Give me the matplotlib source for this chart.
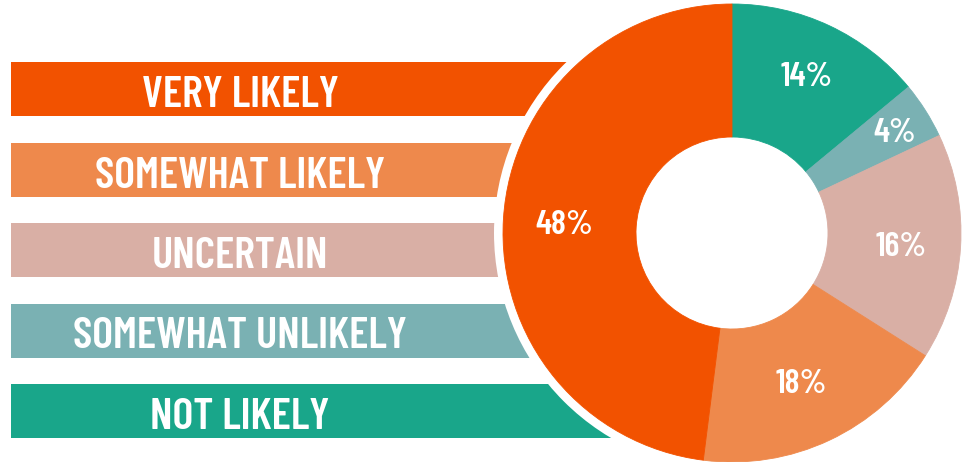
import matplotlib
matplotlib.use("Agg")
import matplotlib.pyplot as plt
import numpy as np
from matplotlib.patches import Circle

# data
categories = ["VERY LIKELY", "SOMEWHAT LIKELY", "UNCERTAIN", "SOMEWHAT UNLIKELY", "NOT LIKELY"]
shares = [48, 18, 16, 4, 14]
colors = ["#F25200", "#EE894C", "#D9AFA5", "#7AB1B3", "#19A68A"]

# pie goes clockwise from 12 o'clock starting with NOT LIKELY
pie_order = [4, 3, 2, 1, 0]
label_dist = {4: 0.765, 3: 0.84, 2: 0.74, 1: 0.715, 0: 0.735}

plt.rcParams['font.family'] = ['Barlow Condensed', 'DejaVu Sans']

W, H = 967, 462
fig = plt.figure(figsize=(W / 100, H / 100), dpi=100)
ax = fig.add_axes([0, 0, 1, 1])

cx, cy = 732, H - 233
r_out, r_in = 229, 96

# legend bands that run in behind the donut
bar_h = 54
for i, (cat, col) in enumerate(zip(categories, colors)):
    top = 62 + i * 80.5
    ax.barh(H - (top + bar_h / 2), cx - 11, left=11, height=bar_h, color=col, zorder=0.5)
    ax.text(240, H - (top + 45), cat, color="white", fontsize=32, fontweight=600,
            ha="center", va="baseline", zorder=3)

# white halo between bands and donut
ax.add_patch(Circle((cx, cy), 238, facecolor="white", edgecolor="none", zorder=1.5))

wedges, _ = ax.pie([shares[i] for i in pie_order],
                   colors=[colors[i] for i in pie_order],
                   startangle=90, counterclock=False,
                   center=(cx, cy), radius=r_out,
                   wedgeprops=dict(width=r_out - r_in, linewidth=0.6, zorder=2))
for w, i in zip(wedges, pie_order):
    w.set_edgecolor(colors[i])
    ang = np.deg2rad((w.theta1 + w.theta2) / 2)
    rr = label_dist[i] * r_out
    ax.text(cx + rr * np.cos(ang), cy + rr * np.sin(ang) - 12, f"{shares[i]}%",
            color="white", fontsize=25, fontweight=600,
            ha="center", va="baseline", zorder=3)

ax.set_xlim(0, W)
ax.set_ylim(0, H)
ax.set_aspect("equal")
ax.axis("off")

fig.savefig("out.png", dpi=100, facecolor="white")
plt.close(fig)
